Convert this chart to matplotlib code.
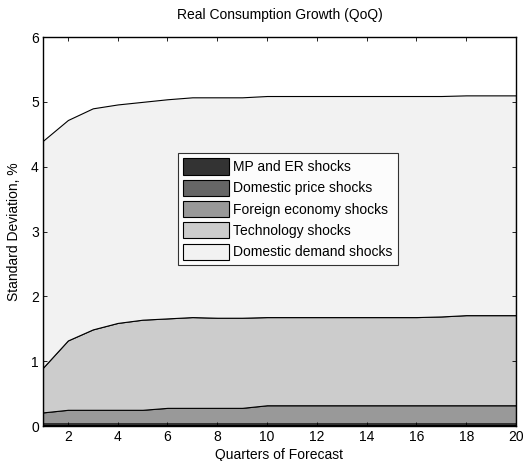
import numpy as np
import matplotlib
matplotlib.use("Agg")
import matplotlib.pyplot as plt
from matplotlib.patches import Patch

plt.rcParams['font.family'] = ['Liberation Sans', 'DejaVu Sans']

quarters = np.arange(1, 21)

# Contribution of each shock group to the forecast standard deviation
mp_er = [0.015] * 20
dom_price = [0.025] * 20
foreign = [0.17, 0.21, 0.21, 0.21, 0.21, 0.24, 0.24, 0.24, 0.24] + [0.28] * 11
technology = [0.69, 1.07, 1.24, 1.34, 1.39, 1.38, 1.40, 1.39, 1.39,
              1.36, 1.36, 1.36, 1.36, 1.36, 1.36, 1.36, 1.37, 1.39, 1.39, 1.39]
dom_demand = [3.50, 3.40, 3.41, 3.37, 3.36, 3.38, 3.39, 3.40, 3.40,
              3.41, 3.41, 3.41, 3.41, 3.41, 3.41, 3.41, 3.40, 3.39, 3.39, 3.39]

labels = ["MP and ER shocks", "Domestic price shocks", "Foreign economy shocks",
          "Technology shocks", "Domestic demand shocks"]
colors = ["#333333", "#666666", "#999999", "#cccccc", "#f2f2f2"]

fig = plt.figure(figsize=(5.23, 4.61), dpi=100)
ax = fig.add_axes([0.0822, 0.0759, 0.9044, 0.8438])

series = [mp_er, dom_price, foreign, technology, dom_demand]
base = np.zeros(len(quarters))
for vals, col in zip(series, colors):
    top = base + np.asarray(vals)
    ax.fill_between(quarters, base, top, facecolor=col, edgecolor='black', linewidth=0.8)
    base = top

ax.set_xlim(1, 20)
ax.set_ylim(0, 6)
ax.set_xticks(range(2, 21, 2))
ax.set_yticks(range(0, 7))
ax.tick_params(direction='in', top=True, right=True, labelsize=10, length=3, width=0.6, pad=3)
for s in ax.spines.values():
    s.set_linewidth(1.0)

ax.set_title("Real Consumption Growth (QoQ)", fontsize=10, pad=13)
ax.set_xlabel("Quarters of Forecast", fontsize=10, labelpad=3)
ax.set_ylabel("Standard Deviation, %", fontsize=10, labelpad=7)

handles = [Patch(facecolor=c, edgecolor='black', linewidth=0.8) for c in colors]
leg = ax.legend(handles, labels, loc='upper left', bbox_to_anchor=(0.285, 0.702),
                fontsize=10, frameon=True, fancybox=False, edgecolor='black',
                handlelength=3.3, handleheight=1.4, handletextpad=0.3,
                labelspacing=0.38, borderpad=0.4, borderaxespad=0)
leg.get_frame().set_linewidth(0.8)

fig.savefig("out.png", dpi=100)
